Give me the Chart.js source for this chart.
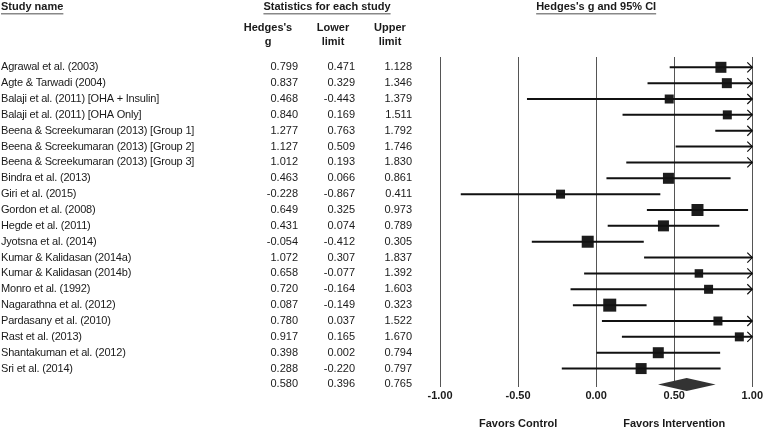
<!DOCTYPE html>
<html>
<head>
<meta charset="utf-8">
<script src="https://cdn.jsdelivr.net/npm/chart.js@4.4.1/dist/chart.umd.min.js"></script>
<style>
  body { margin: 0; background: #fff; }
  #wrap { width: 766px; height: 429px; position: relative; }
</style>
</head>
<body>
<div id="wrap"><canvas id="ForestChart"></canvas></div>
<script>
// study data (Hedges's g with 95% CI)
var studies = [
    'Agrawal et al. (2003)',
    'Agte & Tarwadi (2004)',
    'Balaji et al. (2011) [OHA + Insulin]',
    'Balaji et al. (2011) [OHA Only]',
    'Beena & Screekumaran (2013) [Group 1]',
    'Beena & Screekumaran (2013) [Group 2]',
    'Beena & Screekumaran (2013) [Group 3]',
    'Bindra et al. (2013)',
    'Giri et al. (2015)',
    'Gordon et al. (2008)',
    'Hegde et al. (2011)',
    'Jyotsna et al. (2014)',
    'Kumar & Kalidasan (2014a)',
    'Kumar & Kalidasan (2014b)',
    'Monro et al. (1992)',
    'Nagarathna et al. (2012)',
    'Pardasany et al. (2010)',
    'Rast et al. (2013)',
    'Shantakuman et al. (2012)',
    'Sri et al. (2014)'
];
var hedgesG = [0.799, 0.837, 0.468, 0.840, 1.277, 1.127, 1.012, 0.463, -0.228, 0.649,
               0.431, -0.054, 1.072, 0.658, 0.720, 0.087, 0.780, 0.917, 0.398, 0.288];
var lowerLimit = [0.471, 0.329, -0.443, 0.169, 0.763, 0.509, 0.193, 0.066, -0.867, 0.325,
                  0.074, -0.412, 0.307, -0.077, -0.164, -0.149, 0.037, 0.165, 0.002, -0.220];
var upperLimit = [1.128, 1.346, 1.379, 1.511, 1.792, 1.746, 1.830, 0.861, 0.411, 0.973,
                  0.789, 0.305, 1.837, 1.392, 1.603, 0.323, 1.522, 1.670, 0.794, 0.797];
var summaryG = 0.580;
var summaryLower = 0.396;
var summaryUpper = 0.765;
var xTicks = [-1, -0.5, 0, 0.5, 1];

// box side in px for each study (study weight)
var boxSide = [11, 10, 9, 9, 9, 9, 9, 11, 9, 12, 11, 12, 9, 8.5, 9, 13, 9, 9, 11, 11];

var XMIN = -1, XMAX = 1;
var FONT = '"Liberation Sans", Arial, sans-serif';
var summaryRow = studies.length;

// whiskers: one line with gaps between studies
var whiskers = [];
studies.forEach(function (s, i) {
    whiskers.push({ x: Math.max(lowerLimit[i], XMIN), y: i });
    whiskers.push({ x: Math.min(upperLimit[i], XMAX), y: i });
    whiskers.push({ x: null, y: null });
});

var boxes = studies.map(function (s, i) {
    var g = hedgesG[i];
    return (g >= XMIN && g <= XMAX) ? { x: g, y: i } : { x: null, y: null };
});

var forestPlugin = {
    id: 'forest',
    afterDatasetsDraw: function (chart) {
        var ctx = chart.ctx;
        var xs = chart.scales.x, ys = chart.scales.y;
        ctx.save();
        // arrows where the CI goes past the axis
        ctx.strokeStyle = '#111';
        ctx.lineWidth = 1.2;
        studies.forEach(function (s, i) {
            var y = ys.getPixelForValue(i);
            if (upperLimit[i] > XMAX) {
                var x = xs.getPixelForValue(XMAX);
                ctx.beginPath();
                ctx.moveTo(x - 5, y - 5);
                ctx.lineTo(x, y);
                ctx.lineTo(x - 5, y + 5);
                ctx.stroke();
            }
            if (lowerLimit[i] < XMIN) {
                var x0 = xs.getPixelForValue(XMIN);
                ctx.beginPath();
                ctx.moveTo(x0 + 5, y - 5);
                ctx.lineTo(x0, y);
                ctx.lineTo(x0 + 5, y + 5);
                ctx.stroke();
            }
        });
        // summary diamond
        var yd = ys.getPixelForValue(summaryRow);
        ctx.fillStyle = '#333';
        ctx.beginPath();
        ctx.moveTo(xs.getPixelForValue(summaryLower), yd);
        ctx.lineTo(xs.getPixelForValue(summaryG), yd - 6.5);
        ctx.lineTo(xs.getPixelForValue(summaryUpper), yd);
        ctx.lineTo(xs.getPixelForValue(summaryG), yd + 6.5);
        ctx.closePath();
        ctx.fill();
        ctx.restore();
    },
    afterDraw: function (chart) {
        var ctx = chart.ctx;
        var xs = chart.scales.x, ys = chart.scales.y;
        ctx.save();
        ctx.fillStyle = '#1a1a1a';
        ctx.textBaseline = 'middle';

        // headers
        ctx.font = 'bold 11px ' + FONT;
        function underlined(text, x, align) {
            ctx.textAlign = align;
            ctx.fillText(text, x, 7);
            var w = ctx.measureText(text).width;
            var x0 = align === 'center' ? x - w / 2 : x;
            ctx.fillStyle = '#888';
            ctx.fillRect(x0, 13, w, 1.5);
            ctx.fillStyle = '#1a1a1a';
        }
        underlined('Study name', 1, 'left');
        underlined('Statistics for each study', 327, 'center');
        underlined("Hedges's g and 95% CI", (xs.left + xs.right) / 2, 'center');
        ctx.textAlign = 'center';
        ctx.fillText("Hedges's", 268, 28);
        ctx.fillText('g', 268, 42);
        ctx.fillText('Lower', 333, 28);
        ctx.fillText('limit', 333, 42);
        ctx.fillText('Upper', 390, 28);
        ctx.fillText('limit', 390, 42);

        // rows
        ctx.font = '11px ' + FONT;
        studies.forEach(function (s, i) {
            var y = ys.getPixelForValue(i);
            ctx.textAlign = 'left';
            ctx.letterSpacing = '-0.2px';
            ctx.fillText(s, 1, y);
            ctx.letterSpacing = '0px';
            ctx.textAlign = 'right';
            ctx.fillText(hedgesG[i].toFixed(3), 298, y);
            ctx.fillText(lowerLimit[i].toFixed(3), 355, y);
            ctx.fillText(upperLimit[i].toFixed(3), 412, y);
        });
        var ys2 = ys.getPixelForValue(summaryRow);
        ctx.textAlign = 'right';
        ctx.fillText(summaryG.toFixed(3), 298, ys2);
        ctx.fillText(summaryLower.toFixed(3), 355, ys2);
        ctx.fillText(summaryUpper.toFixed(3), 412, ys2);

        // favors labels
        ctx.font = 'bold 11px ' + FONT;
        ctx.textAlign = 'center';
        ctx.fillText('Favors Control', xs.getPixelForValue(-0.5), 424);
        ctx.fillText('Favors Intervention', xs.getPixelForValue(0.5), 424);
        ctx.restore();
    }
};

var ctx = document.getElementById('ForestChart').getContext('2d');
var chart = new Chart(ctx, {
    type: 'scatter',
    data: {
        datasets: [
            {
                data: whiskers,
                showLine: true,
                borderColor: '#111',
                borderWidth: 2,
                pointRadius: 0,
                spanGaps: false,
                clip: false
            },
            {
                data: boxes,
                pointStyle: 'rect',
                pointRadius: boxSide.map(function (s) { return s / Math.SQRT2; }),
                pointBackgroundColor: '#1c1c1c',
                pointBorderWidth: 0,
                clip: false
            }
        ]
    },
    options: {
        responsive: true,
        maintainAspectRatio: false,
        animation: false,
        layout: { padding: { left: 440, right: 13, top: 57, bottom: 23 } },
        scales: {
            x: {
                type: 'linear',
                min: XMIN,
                max: XMAX,
                afterBuildTicks: function (axis) {
                    axis.ticks = xTicks.map(function (v) { return { value: v }; });
                },
                grid: { color: '#555', lineWidth: 1, drawTicks: false },
                border: { display: false },
                ticks: {
                    padding: 3,
                    color: '#1a1a1a',
                    font: { family: FONT, size: 11, weight: 'bold' },
                    callback: function (v) { return v.toFixed(2); }
                }
            },
            y: {
                type: 'linear',
                display: false,
                reverse: true,
                min: -0.65,
                max: 20.15
            }
        },
        plugins: {
            legend: { display: false },
            tooltip: { enabled: false }
        }
    },
    plugins: [forestPlugin]
});
</script>
</body>
</html>
